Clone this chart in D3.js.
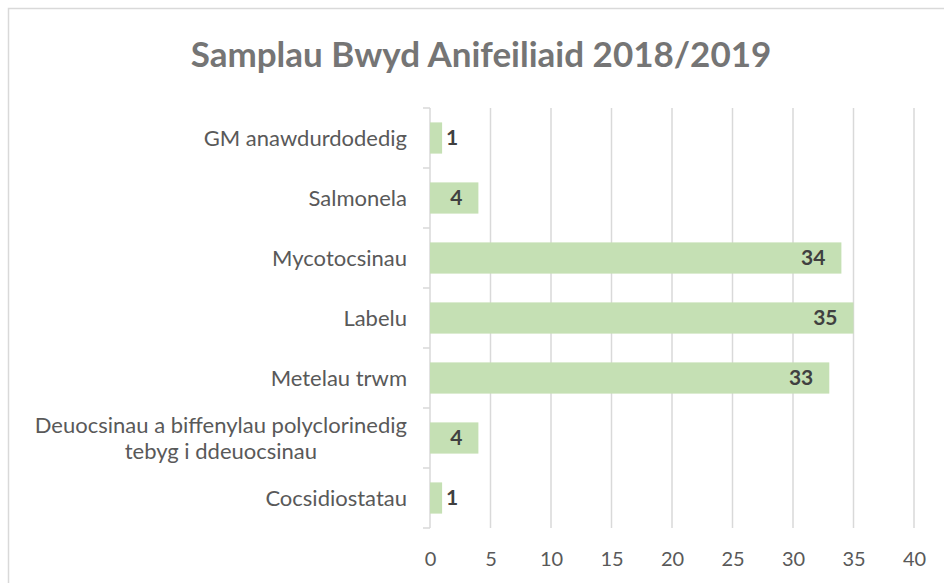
<!DOCTYPE html>
<html>
<head>
<meta charset="utf-8">
<script src="https://cdn.jsdelivr.net/npm/d3@7"></script>
<style>
  body { margin: 0; background: #fff; }
  text { font-family: Lato, "Open Sans", sans-serif; }
</style>
</head>
<body>
<div id="chart"></div>
<script>
// Chart data
var categories = ['GM anawdurdodedig', 'Salmonela', 'Mycotocsinau', 'Labelu', 'Metelau trwm',
    'Deuocsinau a biffenylau polyclorinedig\ntebyg i ddeuocsinau', 'Cocsidiostatau'];
var counts = [1, 4, 34, 35, 33, 4, 1];
var xTicks = [0, 5, 10, 15, 20, 25, 30, 35, 40];
var chartTitle = 'Samplau Bwyd Anifeiliaid 2018/2019';

var svgWidth = 944;
var svgHeight = 583;

var svg = d3.select('#chart')
    .append('svg')
    .attr('width', svgWidth)
    .attr('height', svgHeight);

// Chart border
svg.append('rect')
    .attr('x', 8.5)
    .attr('y', 8.5)
    .attr('width', 960)
    .attr('height', 600)
    .attr('fill', 'none')
    .attr('stroke', '#d9d9d9')
    .attr('stroke-width', 1.5);

var margin = { top: 108, left: 430 };
var chartWidth = 914 - margin.left;
var chartHeight = 528 - margin.top;

var chartGroup = svg.append('g')
    .attr('transform', `translate(${margin.left}, ${margin.top})`);

var xLinearScale = d3.scaleLinear()
    .domain([0, 40])
    .range([0, chartWidth]);

var yBandScale = d3.scaleBand()
    .domain(categories)
    .range([0, chartHeight])
    .paddingInner(0.48)
    .paddingOuter(0.24);

// Gridlines
chartGroup.selectAll('.grid')
    .data(xTicks.filter((d) => d > 0))
    .enter()
    .append('line')
    .attr('x1', (d) => xLinearScale(d))
    .attr('x2', (d) => xLinearScale(d))
    .attr('y1', 0)
    .attr('y2', chartHeight)
    .attr('stroke', '#d9d9d9')
    .attr('stroke-width', 1.5);

// Bottom axis (labels only)
var bottomAxis = d3.axisBottom(xLinearScale)
    .tickValues(xTicks)
    .tickSize(0)
    .tickPadding(24);

var xAxis = chartGroup.append('g')
    .attr('transform', `translate(0, ${chartHeight})`)
    .call(bottomAxis);
xAxis.select('.domain').remove();
xAxis.selectAll('text')
    .attr('fill', '#595959')
    .style('font-size', '20px');

// Left axis line with ticks between categories
var step = yBandScale.step();
chartGroup.append('line')
    .attr('x1', 0).attr('x2', 0)
    .attr('y1', 0).attr('y2', chartHeight)
    .attr('stroke', '#d9d9d9')
    .attr('stroke-width', 1.5);

chartGroup.selectAll('.ytick')
    .data(d3.range(categories.length + 1))
    .enter()
    .append('line')
    .attr('x1', -7).attr('x2', 0)
    .attr('y1', (d) => d * step)
    .attr('y2', (d) => d * step)
    .attr('stroke', '#d9d9d9')
    .attr('stroke-width', 1.5);

// Category labels
categories.forEach(function(cat) {
    var lines = cat.split('\n');
    var cy = yBandScale(cat) + yBandScale.bandwidth() / 2;
    var label = chartGroup.append('text')
        .attr('fill', '#595959')
        .style('font-size', '22px')
        .attr('text-anchor', 'end');
    lines.forEach(function(line, i) {
        label.append('tspan')
            .attr('x', -23)
            .attr('y', cy + (i - (lines.length - 1) / 2) * 26)
            .attr('dy', '0.35em')
            .text(line);
    });
    if (lines.length > 1) {
        // centre the lines against each other, block right aligned
        var widest = d3.max(label.selectAll('tspan').nodes(), (n) => n.getComputedTextLength());
        label.attr('text-anchor', 'middle');
        label.selectAll('tspan').attr('x', -23 - widest / 2);
    }
});

// Bars
chartGroup.selectAll('.bar')
    .data(counts)
    .enter()
    .append('rect')
    .attr('x', 0)
    .attr('y', (d, i) => yBandScale(categories[i]))
    .attr('width', (d) => xLinearScale(d))
    .attr('height', yBandScale.bandwidth())
    .attr('fill', '#c5e0b4');

// Value labels
chartGroup.selectAll('.value')
    .data(counts)
    .enter()
    .append('text')
    .attr('x', (d) => xLinearScale(d) > 40 ? xLinearScale(d) - 16 : xLinearScale(d) + 4)
    .attr('y', (d, i) => yBandScale(categories[i]) + yBandScale.bandwidth() / 2)
    .attr('dy', '0.35em')
    .attr('text-anchor', (d) => xLinearScale(d) > 40 ? 'end' : 'start')
    .attr('fill', '#404040')
    .style('font-size', '21px')
    .style('font-weight', 'bold')
    .text((d) => d);

// Title
svg.append('text')
    .attr('x', 481)
    .attr('y', 67)
    .attr('text-anchor', 'middle')
    .attr('fill', '#757575')
    .style('font-size', '35px')
    .style('font-weight', 'bold')
    .text(chartTitle);
</script>
</body>
</html>
